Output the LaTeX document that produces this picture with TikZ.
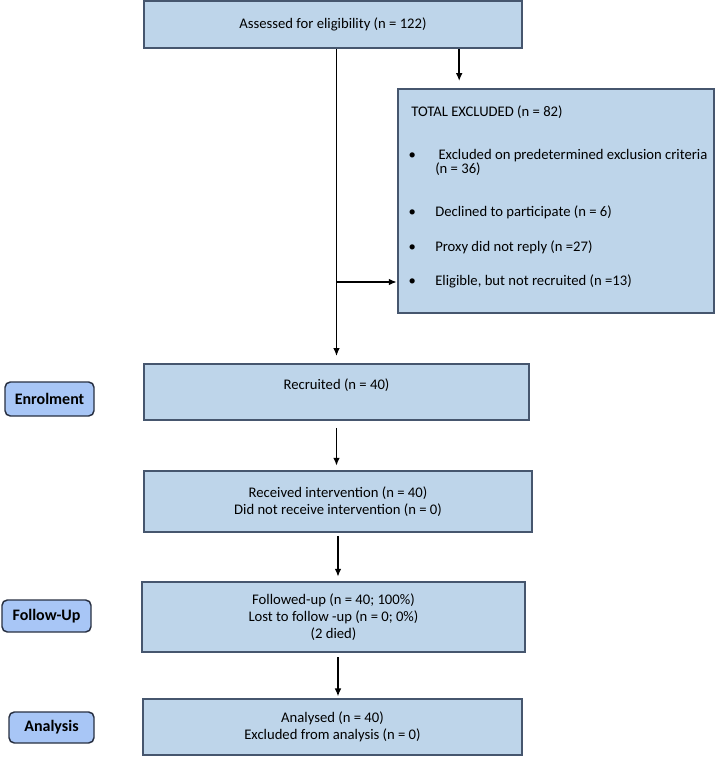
\documentclass[tikz,border=0pt]{standalone}
\usepackage{fontspec}
\setmainfont{Carlito}
\usetikzlibrary{arrows.meta}
\definecolor{boxfill}{RGB}{190,213,234}
\definecolor{boxline}{RGB}{70,86,110}
\definecolor{tagfill}{RGB}{168,198,246}
\definecolor{tagline}{RGB}{40,48,66}
\begin{document}
\begin{tikzpicture}[>={Latex[length=6pt,width=5pt]},x=0.75pt,y=-0.75pt,
  flow/.style={draw=boxline,line width=1.8pt,fill=boxfill,align=center,inner sep=0pt,font=\fontsize{11pt}{13pt}\selectfont},
  tag/.style={draw=tagline,line width=1.1pt,fill=tagfill,rounded corners=4pt,inner sep=0pt,font=\fontsize{12pt}{14pt}\selectfont\bfseries},
  txt/.style={anchor=base west,inner sep=0pt,font=\fontsize{11pt}{13pt}\selectfont},
  arr/.style={->,line width=1.2pt}]
\useasboundingbox (0,0) rectangle (716,757);
\node[flow,minimum width=283.5pt,minimum height=35.25pt] (top) at (333,24.5) {Assessed for eligibility (n = 122)};
\node[flow,minimum width=237pt,minimum height=168pt] (excl) at (556,201) {};
\node[txt] (exclhead) at (411,116) {TOTAL EXCLUDED (n = 82)};
\node[txt] (excla) at (435,159) {\llap{\textbullet\hspace{14.5pt}}\ Excluded on predetermined exclusion criteria};
\node[txt] (exclb) at (435,173) {(n = 36)};
\node[txt] (exclc) at (435,216) {\llap{\textbullet\hspace{14.5pt}}Declined to participate (n = 6)};
\node[txt] (excld) at (435,251) {\llap{\textbullet\hspace{14.5pt}}Proxy did not reply (n =27)};
\node[txt] (excle) at (435,285) {\llap{\textbullet\hspace{14.5pt}}Eligible, but not recruited (n =13)};
\node[flow,minimum width=288.75pt,minimum height=42pt,text depth=12pt] (recr) at (336.5,392) {Recruited (n = 40)};
\node[flow,minimum width=291pt,minimum height=45.75pt] (recv) at (338,501.5) {Received intervention (n = 40)\\Did not receive intervention (n = 0)};
\node[flow,minimum width=287.25pt,minimum height=52.5pt] (foll) at (333.5,617) {Followed-up (n = 40; 100\%)\\Lost to follow -up (n = 0; 0\%)\\(2 died)};
\node[flow,minimum width=284.25pt,minimum height=42pt] (anly) at (332.5,727) {Analysed (n = 40)\\Excluded from analysis (n = 0)};
\node[tag,minimum width=66.75pt,minimum height=25.5pt] (enrol) at (49.5,399) {Enrolment};
\node[tag,minimum width=66.75pt,minimum height=24pt] (follow) at (46.5,616) {Follow-Up};
\node[tag,minimum width=63.75pt,minimum height=23.25pt] (analysis) at (51.5,727.5) {Analysis};
\coordinate (tp) at ([xshift=-48pt]top.south east);
\coordinate (br) at (336.5,282);
\draw[arr,shorten >=5pt] (top.south -| recr.north) -- (recr.north);
\draw[arr,shorten >=5pt] (tp) -- (tp |- excl.north);
\draw[arr] (br) -- (br -| excl.west);
\draw[arr,shorten <=5pt,shorten >=3pt] (recr.south) -- (recr.south |- recv.north);
\draw[arr,shorten <=2pt,shorten >=3pt] (recv.south) -- (recv.south |- foll.north);
\draw[arr,shorten <=3pt,shorten >=1pt] (foll.south -| recv.south) -- (recv.south |- anly.north);
\end{tikzpicture}
\end{document}
